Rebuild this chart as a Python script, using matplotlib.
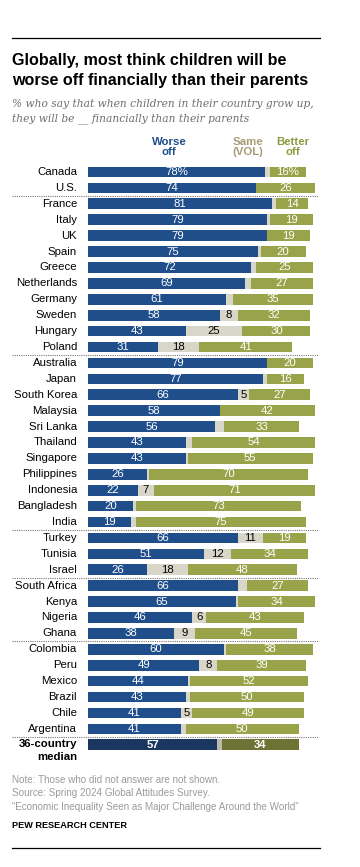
import matplotlib.pyplot as plt

plt.rcParams['font.family'] = ['Liberation Sans', 'DejaVu Sans']

countries = ['Canada', 'U.S.', 'France', 'Italy', 'UK', 'Spain', 'Greece',
             'Netherlands', 'Germany', 'Sweden', 'Hungary', 'Poland',
             'Australia', 'Japan', 'South Korea', 'Malaysia', 'Sri Lanka',
             'Thailand', 'Singapore', 'Philippines', 'Indonesia', 'Bangladesh',
             'India', 'Turkey', 'Tunisia', 'Israel', 'South Africa', 'Kenya',
             'Nigeria', 'Ghana', 'Colombia', 'Peru', 'Mexico', 'Brazil',
             'Chile', 'Argentina']
worse = [78, 74, 81, 79, 79, 75, 72, 69, 61, 58, 43, 31,
         79, 77, 66, 58, 56, 43, 43, 26, 22, 20, 19,
         66, 51, 26, 66, 65, 46, 38,
         60, 49, 44, 43, 41, 41]
same = [2, 0, 2, 1, 0, 1, 2, 3, 3, 8, 25, 18,
        0, 2, 5, 0, 4, 3, 1, 1, 7, 1, 2,
        11, 12, 18, 4, 1, 6, 9,
        1, 8, 1, 2, 5, 2]
better = [16, 26, 14, 19, 19, 20, 25, 27, 35, 32, 30, 41,
          20, 16, 27, 42, 33, 54, 55, 70, 71, 73, 75,
          19, 34, 48, 27, 34, 43, 45,
          38, 39, 52, 50, 49, 50]
median_worse, median_same, median_better = 57, 2, 34
# dotted lines go after these rows
breaks_after = ['U.S.', 'Poland', 'India', 'Israel', 'Ghana', 'Argentina']

BLUE = '#1f4e8b'
GREEN = '#99a349'
GREY = '#d8d5c9'
NAVY = '#1c375f'
OLIVE = '#6c7335'
MGREY = '#bdbaad'

W, H = 360, 867
fig = plt.figure(figsize=(W / 100, H / 100), dpi=100)

# axes: 0-100% spans x 88..315 px, rows 0..36 centred at y 172..745 px
step = 15.91
top_px = 172 - step / 2
bot_px = 172 + 36 * step + step / 2
ax = fig.add_axes([88 / W, 1 - bot_px / H, 227 / W, (bot_px - top_px) / H])
ax.set_xlim(0, 100)
ax.set_ylim(36.5, -0.5)
ax.axis('off')

n = len(countries)
ys = list(range(n))
left2 = [w + s for w, s in zip(worse, same)]
ax.barh(ys, worse, height=0.67, color=BLUE)
ax.barh(ys, same, left=worse, height=0.67, color=GREY)
ax.barh(ys, better, left=left2, height=0.67, color=GREEN)

ax.barh(n, median_worse, height=0.67, color=NAVY)
ax.barh(n, median_same, left=median_worse, height=0.67, color=MGREY)
ax.barh(n, median_better, left=median_worse + median_same, height=0.67, color=OLIVE)

fs = 8.2
for i, c in enumerate(countries):
    ax.text(-4.8, i, c, ha='right', va='center', fontsize=fs, color='black')
    pct = '%' if i == 0 else ''
    ax.text(worse[i] / 2, i, f'{worse[i]}{pct}', ha='center', va='center',
            fontsize=fs, color='white')
    if same[i] >= 5:
        ax.text(worse[i] + same[i] / 2, i, str(same[i]), ha='center',
                va='center', fontsize=fs, color='black')
    ax.text(left2[i] + better[i] / 2, i, f'{better[i]}{pct}', ha='center',
            va='center', fontsize=fs, color='white')

ax.text(-4.8, n - 0.05, '36-country', ha='right', va='center', fontsize=fs,
        fontweight='bold')
ax.text(-4.8, n + 0.8, 'median', ha='right', va='center', fontsize=fs,
        fontweight='bold')
ax.text(median_worse / 2, n, str(median_worse), ha='center', va='center',
        fontsize=fs, color='white', fontweight='bold')
ax.text(median_worse + median_same + median_better / 2, n, str(median_better),
        ha='center', va='center', fontsize=fs, color='white', fontweight='bold')

for name in breaks_after:
    y = countries.index(name) + 0.5
    ax.plot([-33.5, 101.3], [y, y], color='#777777', lw=0.8,
            linestyle=(0, (1, 1)), clip_on=False)

# column headers
ax.text(35.7, -0.95, 'Worse\noff', ha='center', va='bottom', fontsize=fs,
        fontweight='bold', color=BLUE, linespacing=1.0)
ax.text(70.5, -0.95, 'Same\n(VOL)', ha='center', va='bottom', fontsize=fs,
        fontweight='bold', color='#a99b76', linespacing=1.0)
ax.text(90.3, -0.95, 'Better\noff', ha='center', va='bottom', fontsize=fs,
        fontweight='bold', color='#8e9a3e', linespacing=1.0)

# title block
fig.add_artist(plt.Line2D([12 / W, 320 / W], [1 - 38 / H, 1 - 38 / H],
                          color='black', lw=0.9))
fig.text(12 / W, 1 - 61 / H, 'Globally, most think children will be',
         fontsize=11.6, fontweight='bold', va='center')
fig.text(12 / W, 1 - 81 / H, 'worse off financially than their parents',
         fontsize=11.6, fontweight='bold', va='center')
fig.text(12 / W, 1 - 104 / H,
         '% who say that when children in their country grow up,',
         fontsize=7.7, style='italic', color='#6e6e6e', va='center',
         family='DejaVu Serif')
fig.text(12 / W, 1 - 119 / H,
         'they will be __ financially than their parents',
         fontsize=7.7, style='italic', color='#6e6e6e', va='center',
         family='DejaVu Serif')

# footer
notes = ['Note: Those who did not answer are not shown.',
         'Source: Spring 2024 Global Attitudes Survey.',
         '\u201cEconomic Inequality Seen as Major Challenge Around the World\u201d']
for k, line in enumerate(notes):
    fig.text(12 / W, 1 - (780 + k * 13.5) / H, line, fontsize=7.1,
             color='#9a9a9a', va='center')
fig.text(12 / W, 1 - 826 / H, 'PEW RESEARCH CENTER', fontsize=6.6,
         fontweight='bold', va='center')
fig.add_artist(plt.Line2D([12 / W, 320 / W], [1 - 848 / H, 1 - 848 / H],
                          color='black', lw=0.9))

fig.savefig('out.png', dpi=100, facecolor='white')
